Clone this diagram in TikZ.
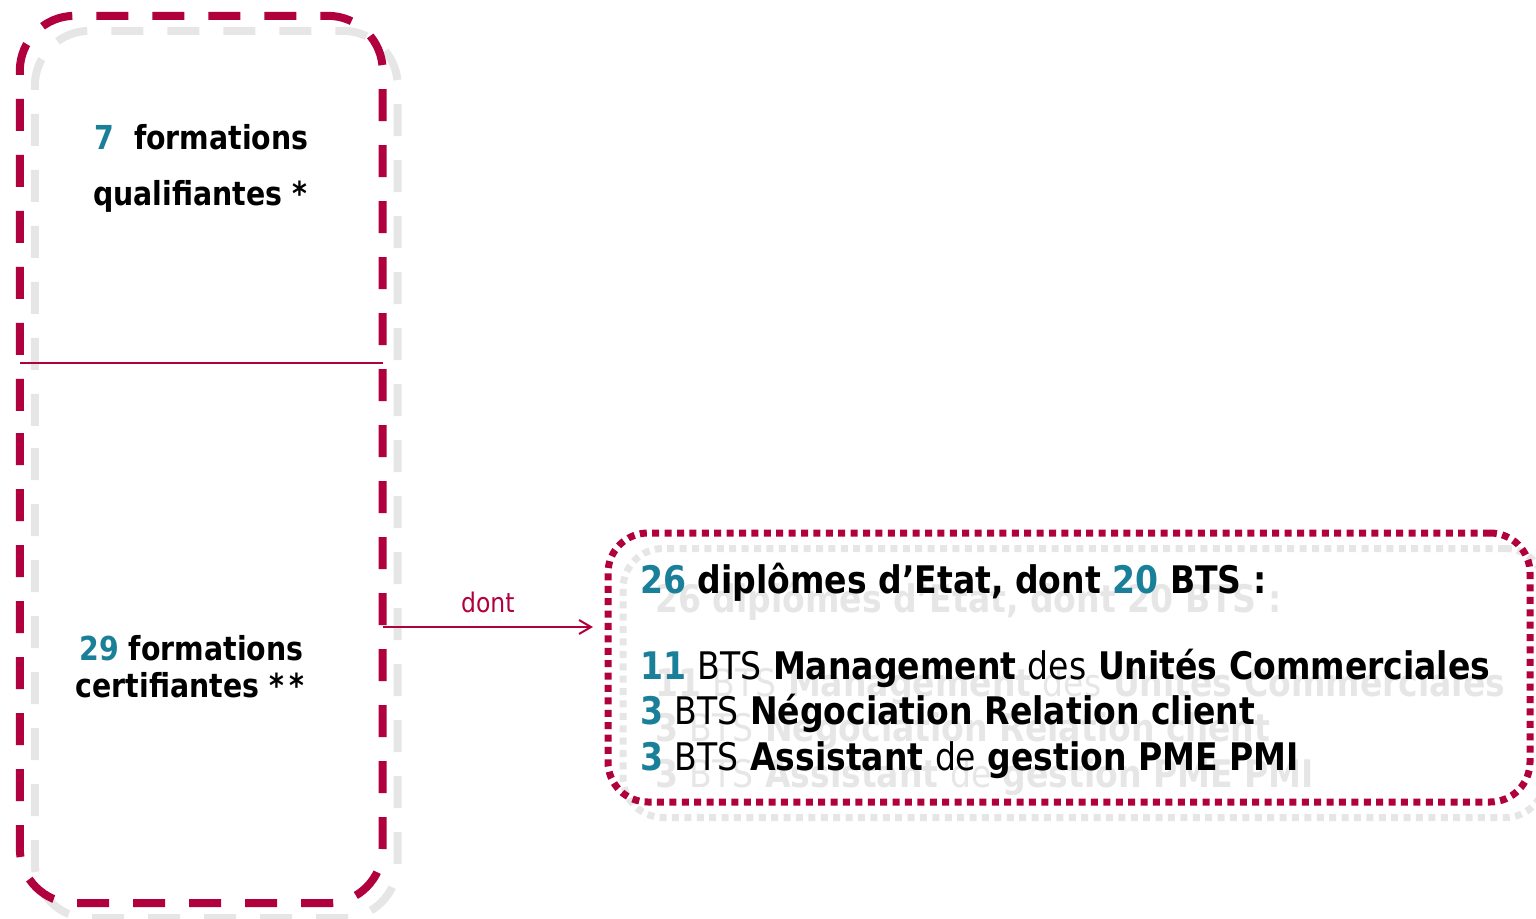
\documentclass[tikz,border=0pt]{standalone}
\usepackage{fontspec}
\setmainfont{DejaVu Sans}
\newfontfamily\lfont[FakeStretch=0.86]{DejaVu Sans}
\newfontfamily\rfont[FakeStretch=0.87]{DejaVu Sans}
\usetikzlibrary{arrows.meta}
\definecolor{crim}{RGB}{176,0,62}
\definecolor{tealc}{RGB}{26,127,152}
\definecolor{shadg}{RGB}{230,230,230}
\newcommand\numc{tealc}
\newcommand\rowA{{\color{\numc}26} diplômes d’Etat, dont {\color{\numc}20} BTS :}
\newcommand\rowB{{\color{\numc}\bfseries 11} {\mdseries BTS} Management {\mdseries des} Unités Commerciales}
\newcommand\rowC{{\color{\numc}3} {\mdseries BTS} Négociation Relation client}
\newcommand\rowD{{\color{\numc}3} {\mdseries BTS} Assistant {\mdseries de} gestion PME PMI}
\begin{document}
\begin{tikzpicture}[x=1pt,y=-1pt,
  boxshape/.style={inner sep=0pt, minimum width=362.5pt, minimum height=887pt},
  dashline/.style={line width=8pt, dash pattern=on 32pt off 24pt, rounded corners=55pt},
  dotbox/.style={draw, line width=7pt, dash pattern=on 7pt off 5.4pt, rounded corners=40pt, inner sep=0pt, minimum width=922pt, minimum height=269pt},
  ltext/.style={font=\lfont\bfseries\fontsize{33}{36}\selectfont, inner sep=0pt, anchor=base},
  rtext/.style={font=\rfont\bfseries\fontsize{38}{42}\selectfont, inner sep=0pt, anchor=base west},
  shadtext/.style={rtext, text=shadg},
  conn/.style={draw=crim, line width=2pt}
]
\useasboundingbox (0,0) rectangle (1536,918);
% box frames (named nodes, borders drawn below)
\node[boxshape] (leftshadow) at (216.25,474.5) {};
\node[boxshape] (leftbox) at (201.25,459.5) {};
\coordinate (phaseS) at (0,393);
\coordinate (phaseL) at (0,378);
% shadows
\draw[dashline, shadg] (leftshadow.west |- phaseS) -- (leftshadow.south west) -- (leftshadow.south east) -- (leftshadow.north east) -- (leftshadow.north west) -- cycle;
\node[dotbox, draw=shadg] (rightshadow) at (1084,683) {};
% boxes
\draw[dashline, crim] (leftbox.west |- phaseL) -- (leftbox.south west) -- (leftbox.south east) -- (leftbox.north east) -- (leftbox.north west) -- cycle;
\node[dotbox, draw=crim] (rightbox) at (1069,667.5) {};
% divider
\coordinate (divy) at (0,363);
\draw[crim, line width=2pt] (leftbox.west |- divy) -- (leftbox.east |- divy);
% left texts
\node[ltext] (t1) at (201.5,149) {{\color{tealc}7}~~formations};
\node[ltext] (t2) at (200,205) {qualifiantes *};
\node[ltext] (t3) at (191.5,660) {{\color{tealc}29} formations};
\node[ltext] (t4) at (190,697) {certifiantes *\,*};
% shadow texts
\begingroup\renewcommand\numc{shadg}
\node[shadtext] (s1) at (655,612) {\rowA};
\node[shadtext] (s2) at (655,696) {\rowB};
\node[shadtext] (s3) at (655,741) {\rowC};
\node[shadtext] (s4) at (655,787) {\rowD};
\endgroup
% right texts
\node[rtext] (r1) at (640,593) {\rowA};
\node[rtext] (r2) at (640,679) {\rowB};
\node[rtext] (r3) at (640,724) {\rowC};
\node[rtext] (r4) at (640,770) {\rowD};
% connector
\coordinate (arrend) at (593,627);
\draw[conn, -{Straight Barb[length=12pt,width=14pt,line width=2pt]}] (leftbox.east |- arrend) -- (arrend)
  node[midway, above=13pt, text=crim, font=\rfont\fontsize{27}{29}\selectfont, inner sep=0pt] (dontlbl) {dont};
\end{tikzpicture}
\end{document}
